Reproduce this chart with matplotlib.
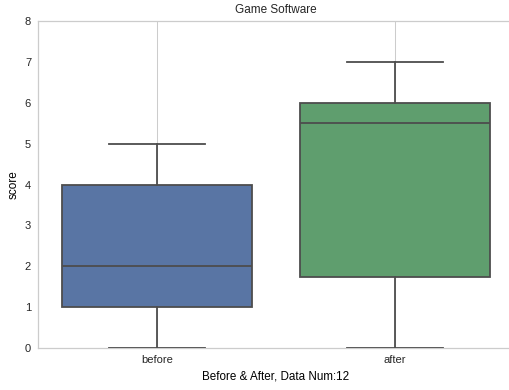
import numpy as np
import matplotlib
matplotlib.use("Agg")
import matplotlib.pyplot as plt

# scores per group (12 respondents each)
categories = ["before", "after"]
before_scores = [0, 0, 1, 1, 1, 2, 2, 3, 4, 4, 5, 5]
after_scores = [0, 0, 1, 2, 4, 5, 6, 6, 6, 6, 7, 7]
data_num = len(before_scores)

BOX_COLORS = ["#5975a4", "#5f9e6e"]
LINE_COLOR = "#4d4d4d"
GRID_COLOR = "#cccccc"
LW = 1.3

plt.rcParams["font.family"] = ["Liberation Sans", "DejaVu Sans"]
plt.rcParams["text.color"] = "#262626"

fig = plt.figure(figsize=(5.09, 3.9), dpi=100)
# right edge of the axes runs past the canvas
ax = fig.add_axes([0.0747, 0.1077, 0.935, 0.838])

bp = ax.boxplot([before_scores, after_scores], positions=[0, 1], widths=0.8,
                patch_artist=True, showfliers=False,
                boxprops=dict(edgecolor=LINE_COLOR, linewidth=LW),
                whiskerprops=dict(color=LINE_COLOR, linewidth=LW),
                capprops=dict(color=LINE_COLOR, linewidth=LW),
                medianprops=dict(color=LINE_COLOR, linewidth=LW), zorder=3)
for patch, c in zip(bp["boxes"], BOX_COLORS):
    patch.set_facecolor(c)

ax.set_xlim(-0.5, 1.5)
ax.set_ylim(0, 8)
ax.set_xticks([0, 1])
ax.set_xticklabels(categories)
ax.set_yticks(range(0, 9))

ax.grid(axis="x", color=GRID_COLOR, linewidth=0.75, zorder=0)
ax.set_axisbelow(True)
for sp in ax.spines.values():
    sp.set_color(GRID_COLOR)
    sp.set_linewidth(0.9)
ax.spines["right"].set_visible(False)

ax.tick_params(length=0, labelsize=8, colors="#262626", pad=5)
ax.set_title("Game Software", fontsize=8.5)
ax.set_xlabel(f"Before & After, Data Num:{data_num}", fontsize=8.4)
ax.set_ylabel("score", fontsize=8.5)

fig.savefig("out.png", dpi=100)
